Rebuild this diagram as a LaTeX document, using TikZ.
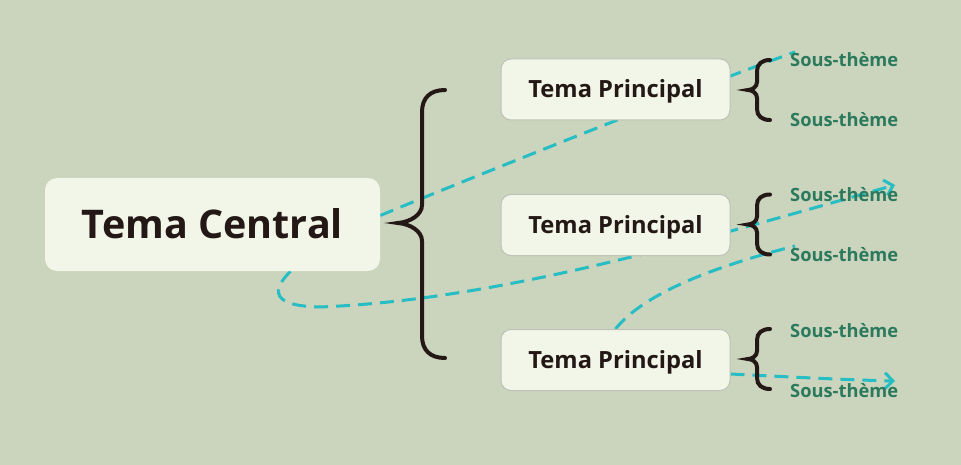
\documentclass[tikz,border=0pt]{standalone}
\usepackage{fontspec}
\setmainfont{Open Sans}
\usetikzlibrary{arrows.meta}
\pgfdeclarelayer{background}
\pgfsetlayers{background,main}
\definecolor{bgsage}{RGB}{203,212,188}
\definecolor{nodefill}{RGB}{242,246,232}
\definecolor{nodeedge}{RGB}{190,193,184}
\definecolor{inkdark}{RGB}{35,24,21}
\definecolor{subgreen}{RGB}{44,122,94}
\definecolor{linkcyan}{RGB}{38,190,196}
\tikzset{
  central/.style={fill=nodefill, rounded corners=12pt, minimum width=335pt, minimum height=93pt,
    inner sep=0pt, text=inkdark, font=\fontsize{39.5}{44}\selectfont\bfseries, text height=28pt, text depth=0pt},
  principal/.style={fill=nodefill, draw=nodeedge, line width=1pt, rounded corners=10pt,
    minimum width=229pt, minimum height=61pt, inner sep=0pt, text=inkdark,
    font=\fontsize{23.7}{28}\selectfont\bfseries, text height=17pt, text depth=0pt},
  subtopic/.style={anchor=base west, inner sep=0pt, text=subgreen, font=\fontsize{18.3}{21}\selectfont\bfseries},
  bracket/.style={draw=inkdark, line width=4pt, line cap=round},
  link/.style={draw=linkcyan, line width=3pt, dash pattern=on 14pt off 8pt},
  linkarrow/.style={link, -{Straight Barb[length=8pt,width=16pt,line width=3pt]}}
}
\begin{document}
\begin{tikzpicture}[x=1pt,y=-1pt]
  \useasboundingbox (0,0) rectangle (961,465);
  % Central topic
  \node[central] (central) at (212.5,224.5) {Tema Central};
  % Main topics
  \foreach \i/\y in {1/89.5, 2/225, 3/360} {
    \node[principal] (p\i) at (615.5,\y) {Tema Principal};
  }
  % Subtopics
  \foreach \i/\yb in {1/67, 2/127, 3/202, 4/261, 5/337, 6/397} {
    \node[subtopic] (s\i) at (790,\yb) {Sous-thème};
  }
  % Big brace
  \draw[bracket] (445,90) .. controls (430,90) and (422,98) .. (422,112) -- (422,205)
    .. controls (422,215) and (410,222) .. (398,223)
    .. controls (410,224) and (422,231) .. (422,241) -- (422,336)
    .. controls (422,350) and (430,358) .. (445,358);
  % Small braces
  \foreach \y in {90, 224.5, 359} {
    \draw[bracket] (770,\y-30) .. controls (762,\y-30) and (757,\y-26) .. (757,\y-19) -- (757,\y-8)
      .. controls (757,\y-3) and (752,\y) .. (748,\y)
      .. controls (752,\y) and (757,\y+3) .. (757,\y+8) -- (757,\y+19)
      .. controls (757,\y+26) and (762,\y+30) .. (770,\y+30);
  }
  % Relation lines
  \coordinate (l1) at (795,52);
  \coordinate (l2) at (895,185);
  \coordinate (l3) at (795,246);
  \coordinate (l4) at (895,381);
  \begin{pgfonlayer}{background}
    \fill[bgsage] (0,0) rectangle (961,465);
    \draw[link] ([yshift=9pt]central.east) .. controls (483,173) and (695,88) .. (l1);
    \draw[linkarrow] ([xshift=78pt]central.south) .. controls (272,290) and (270,306) .. (320,307)
      .. controls (500,300) and (700,240) .. (l2);
    \draw[link] (p3.north) .. controls (640,298) and (700,270) .. (l3);
    \draw[linkarrow] ([yshift=-14pt]p3.east) .. controls (790,377) and (850,380) .. (l4);
  \end{pgfonlayer}
\end{tikzpicture}
\end{document}
